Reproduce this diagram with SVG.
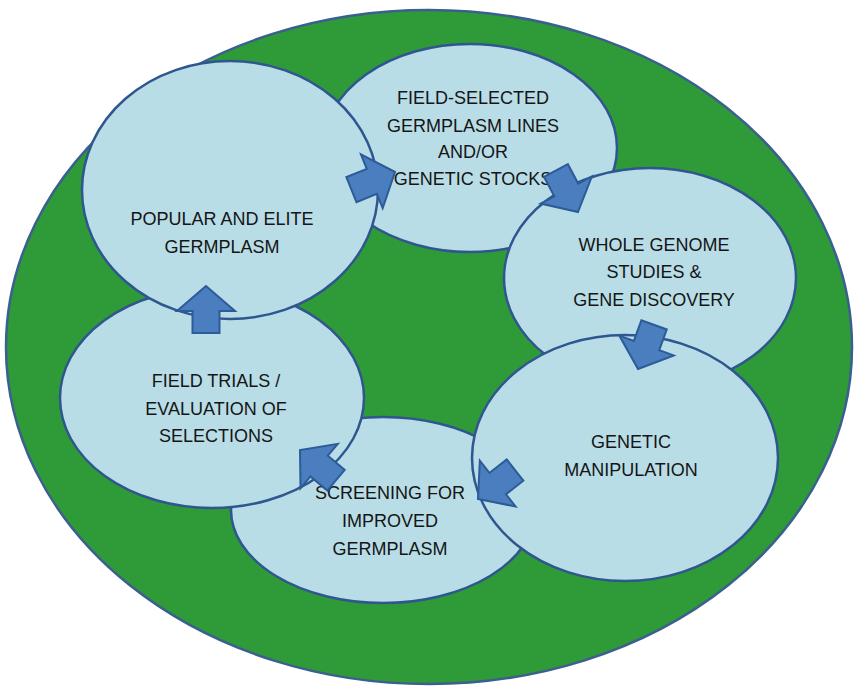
<svg xmlns="http://www.w3.org/2000/svg" width="855" height="687" viewBox="0 0 855 687">
<defs>
<style>
.bg{fill:#2f9a38;stroke:#3b5f8e;stroke-width:2.5}
.node{fill:#b8dde6;stroke:#2f568f;stroke-width:2.5}
.lbl{font-family:"Liberation Sans",Arial,sans-serif;font-size:18px;fill:#151515;text-anchor:middle}
.arr{fill:#4a7ebf;stroke:#2c5b98;stroke-width:2;stroke-linejoin:miter}
</style>
<polygon id="blk" points="0,0 -25,-29 -25,-13.5 -47,-13.5 -47,13.5 -25,13.5 -25,29"/>
</defs>
<rect width="855" height="687" fill="#ffffff"/>
<ellipse class="bg" cx="429" cy="347" rx="423" ry="337"/>
<g id="field-selected">
<ellipse class="node" cx="470" cy="148" rx="147" ry="104"/>
<text class="lbl" x="473" y="104">FIELD-SELECTED</text>
<text class="lbl" x="473" y="132">GERMPLASM LINES</text>
<text class="lbl" x="473" y="158">AND/OR</text>
<text class="lbl" x="473" y="185">GENETIC STOCKS</text>
</g>
<g id="whole-genome">
<ellipse class="node" cx="650" cy="278" rx="146" ry="110"/>
<text class="lbl" x="654" y="251">WHOLE GENOME</text>
<text class="lbl" x="654" y="278">STUDIES &amp;</text>
<text class="lbl" x="654" y="306">GENE DISCOVERY</text>
</g>
<g id="screening">
<ellipse class="node" cx="383" cy="510" rx="152" ry="93"/>
<text class="lbl" x="390" y="499">SCREENING FOR</text>
<text class="lbl" x="390" y="527">IMPROVED</text>
<text class="lbl" x="390" y="555">GERMPLASM</text>
</g>
<g id="field-trials">
<ellipse class="node" cx="212" cy="398" rx="152" ry="110"/>
<text class="lbl" x="216" y="387">FIELD TRIALS /</text>
<text class="lbl" x="216" y="415">EVALUATION OF</text>
<text class="lbl" x="216" y="442">SELECTIONS</text>
</g>
<g id="genetic-manipulation">
<ellipse class="node" cx="625" cy="458" rx="153" ry="123"/>
<text class="lbl" x="631" y="448">GENETIC</text>
<text class="lbl" x="631" y="476">MANIPULATION</text>
</g>
<g id="popular-elite">
<ellipse class="node" cx="230" cy="190" rx="148" ry="129"/>
<text class="lbl" x="222" y="225">POPULAR AND ELITE</text>
<text class="lbl" x="222" y="253">GERMPLASM</text>
</g>
<g id="connectors">
<use href="#blk" class="arr" transform="translate(395,172) rotate(-22)"/>
<use href="#blk" class="arr" transform="translate(578,212) rotate(62)"/>
<use href="#blk" class="arr" transform="translate(638,369) rotate(110)"/>
<use href="#blk" class="arr" transform="translate(478,499) rotate(142)"/>
<use href="#blk" class="arr" transform="translate(300,450) rotate(-140)"/>
<use href="#blk" class="arr" transform="translate(206,286) rotate(-90)"/>
</g>
</svg>
